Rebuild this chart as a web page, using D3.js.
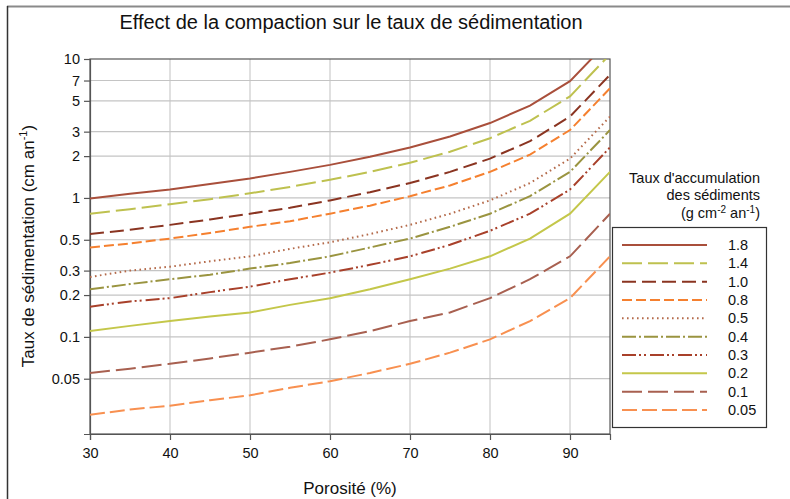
<!DOCTYPE html>
<html>
<head>
<meta charset="utf-8">
<script src="https://cdn.jsdelivr.net/npm/d3@7"></script>
<style>
  body { margin: 0; background: #fff; }
  svg { font-family: "Liberation Sans", Arial, sans-serif; }
</style>
</head>
<body>
<div id="chart"></div>
<script>
// porosity (%) sampled every 5
const porosity = [30, 35, 40, 45, 50, 55, 60, 65, 70, 75, 80, 85, 90, 95];

// sedimentation rate (cm/an), one array per accumulation rate
const rate18 = [0.99, 1.07, 1.15, 1.26, 1.38, 1.54, 1.73, 1.98, 2.31, 2.77, 3.46, 4.62, 6.92, 13.8];
const rate14 = [0.77, 0.83, 0.90, 0.98, 1.08, 1.20, 1.35, 1.54, 1.79, 2.15, 2.69, 3.59, 5.38, 10.8];
const rate10 = [0.55, 0.59, 0.64, 0.70, 0.77, 0.85, 0.96, 1.10, 1.28, 1.54, 1.92, 2.56, 3.85, 7.69];
const rate08 = [0.44, 0.47, 0.51, 0.56, 0.62, 0.68, 0.77, 0.88, 1.03, 1.23, 1.54, 2.05, 3.08, 6.15];
const rate05 = [0.27, 0.30, 0.32, 0.35, 0.38, 0.43, 0.48, 0.55, 0.64, 0.77, 0.96, 1.28, 1.92, 3.85];
const rate04 = [0.22, 0.24, 0.26, 0.28, 0.31, 0.34, 0.38, 0.44, 0.51, 0.62, 0.77, 1.03, 1.54, 3.08];
const rate03 = [0.165, 0.18, 0.19, 0.21, 0.23, 0.26, 0.29, 0.33, 0.38, 0.46, 0.58, 0.77, 1.15, 2.31];
const rate02 = [0.11, 0.12, 0.13, 0.14, 0.15, 0.17, 0.19, 0.22, 0.26, 0.31, 0.38, 0.51, 0.77, 1.54];
const rate01 = [0.055, 0.059, 0.064, 0.070, 0.077, 0.085, 0.096, 0.11, 0.13, 0.15, 0.19, 0.26, 0.38, 0.77];
const rate005 = [0.0275, 0.030, 0.032, 0.035, 0.038, 0.043, 0.048, 0.055, 0.064, 0.077, 0.096, 0.13, 0.19, 0.38];

const seriesLabels = ['1.8', '1.4', '1.0', '0.8', '0.5', '0.4', '0.3', '0.2', '0.1', '0.05'];
const seriesValues = [rate18, rate14, rate10, rate08, rate05, rate04, rate03, rate02, rate01, rate005];

const xTicks = [30, 40, 50, 60, 70, 80, 90];
const yTicks = [0.05, 0.1, 0.2, 0.3, 0.5, 1, 2, 3, 5, 7, 10];

const styles = [
    { color: '#a94f3b', dash: null },
    { color: '#bec14f', dash: '20,6' },
    { color: '#8a3421', dash: '14,6' },
    { color: '#f5802f', dash: '10,4' },
    { color: '#b46a4a', dash: '1.6,3.4' },
    { color: '#9a9440', dash: '14,3,2,3' },
    { color: '#a8402a', dash: '14,3,2,3,2,4' },
    { color: '#c4c74a', dash: null },
    { color: '#a86050', dash: '20,6' },
    { color: '#f89050', dash: '15,5' }
];

const W = 790, H = 499;
const svg = d3.select('#chart').append('svg')
    .attr('width', W)
    .attr('height', H);

// outer frame (top + left edges)
svg.append('line').attr('x1', 7).attr('x2', W).attr('y1', 6.5).attr('y2', 6.5)
    .attr('stroke', '#8a8a8a').attr('stroke-width', 2);
svg.append('line').attr('x1', 7.5).attr('x2', 7.5).attr('y1', 6).attr('y2', H)
    .attr('stroke', '#333').attr('stroke-width', 1.5);

const x = d3.scaleLinear().domain([30, 95]).range([90, 610]);
const y = d3.scaleLog().domain([0.02, 10]).range([434, 59]);

// grid
svg.append('g').selectAll('line').data(xTicks.slice(1)).enter().append('line')
    .attr('x1', d => x(d)).attr('x2', d => x(d))
    .attr('y1', y.range()[0]).attr('y2', y.range()[1])
    .attr('stroke', '#cccccc').attr('stroke-width', 1.2);
svg.append('g').selectAll('line').data(yTicks.filter(d => d < 10)).enter().append('line')
    .attr('x1', x.range()[0]).attr('x2', x.range()[1])
    .attr('y1', d => y(d)).attr('y2', d => y(d))
    .attr('stroke', '#c4c4c4').attr('stroke-width', 1.2);

// plot frame
svg.append('rect')
    .attr('x', 90).attr('y', 59).attr('width', 520).attr('height', 375)
    .attr('fill', 'none').attr('stroke', '#555').attr('stroke-width', 1.2);

// axes
const xAxis = svg.append('g')
    .attr('transform', `translate(0,${y.range()[0]})`)
    .call(d3.axisBottom(x).tickValues(xTicks).tickSize(6).tickPadding(8).tickFormat(d3.format('d')));
const yAxis = svg.append('g')
    .attr('transform', `translate(${x.range()[0]},0)`)
    .call(d3.axisLeft(y).tickValues(yTicks).tickSize(6).tickPadding(4).tickFormat(d => String(d)));
[xAxis, yAxis].forEach(a => {
    a.select('.domain').attr('stroke', '#555').attr('stroke-width', 1.2);
    a.selectAll('.tick line').attr('stroke', '#555').attr('stroke-width', 1.2);
    a.selectAll('text').attr('font-size', 14.5).attr('fill', '#111')
        .attr('font-family', '"Liberation Sans", Arial, sans-serif');
});

// lines
svg.append('clipPath').attr('id', 'clip')
    .append('rect').attr('x', 90).attr('y', 59).attr('width', 520).attr('height', 375);

const line = d3.line()
    .x((d, i) => x(porosity[i]))
    .y(d => y(d));

svg.append('g').attr('clip-path', 'url(#clip)')
    .selectAll('path').data(seriesValues).enter().append('path')
    .attr('d', d => line(d))
    .attr('fill', 'none')
    .attr('stroke', (d, i) => styles[i].color)
    .attr('stroke-width', 2)
    .attr('stroke-dasharray', (d, i) => styles[i].dash);

// titles
svg.append('text').attr('x', 351).attr('y', 29).attr('text-anchor', 'middle')
    .attr('font-size', 20).attr('fill', '#111')
    .text('Effect de la compaction sur le taux de sédimentation');

svg.append('text').attr('x', 350).attr('y', 494).attr('text-anchor', 'middle')
    .attr('font-size', 17).attr('fill', '#111')
    .text('Porosité (%)');

const yTitle = svg.append('text')
    .attr('transform', 'translate(34,246) rotate(-90)')
    .attr('text-anchor', 'middle')
    .attr('font-size', 17).attr('fill', '#111');
yTitle.append('tspan').text('Taux de sédimentation (cm an');
yTitle.append('tspan').attr('font-size', 11).attr('dy', -7).text('-1');
yTitle.append('tspan').attr('dy', 7).text(')');

// legend
const legTitle = svg.append('g').attr('font-size', 14.5).attr('fill', '#111').attr('text-anchor', 'end');
legTitle.append('text').attr('x', 760).attr('y', 183).text("Taux d'accumulation");
legTitle.append('text').attr('x', 760).attr('y', 200).text('des sédiments');
const unit = legTitle.append('text').attr('x', 760).attr('y', 218);
unit.append('tspan').text('(g cm');
unit.append('tspan').attr('font-size', 10).attr('dy', -5).text('-2');
unit.append('tspan').attr('dy', 5).text(' an');
unit.append('tspan').attr('font-size', 10).attr('dy', -5).text('-1');
unit.append('tspan').attr('dy', 5).text(')');

svg.append('rect')
    .attr('x', 612.5).attr('y', 227.5).attr('width', 154).attr('height', 200)
    .attr('fill', '#fff').attr('stroke', '#333').attr('stroke-width', 1.2);

const legY = d3.scalePoint().domain(seriesLabels).range([245, 410]);
const items = svg.append('g').selectAll('g').data(seriesLabels).enter().append('g')
    .attr('transform', d => `translate(0,${legY(d)})`);
items.append('line')
    .attr('x1', 622).attr('x2', 707)
    .attr('stroke', (d, i) => styles[i].color)
    .attr('stroke-width', 2)
    .attr('stroke-dasharray', (d, i) => styles[i].dash);
items.append('text')
    .attr('x', 728).attr('dy', '0.35em')
    .attr('font-size', 14.5).attr('fill', '#111')
    .text(d => d);
</script>
</body>
</html>
